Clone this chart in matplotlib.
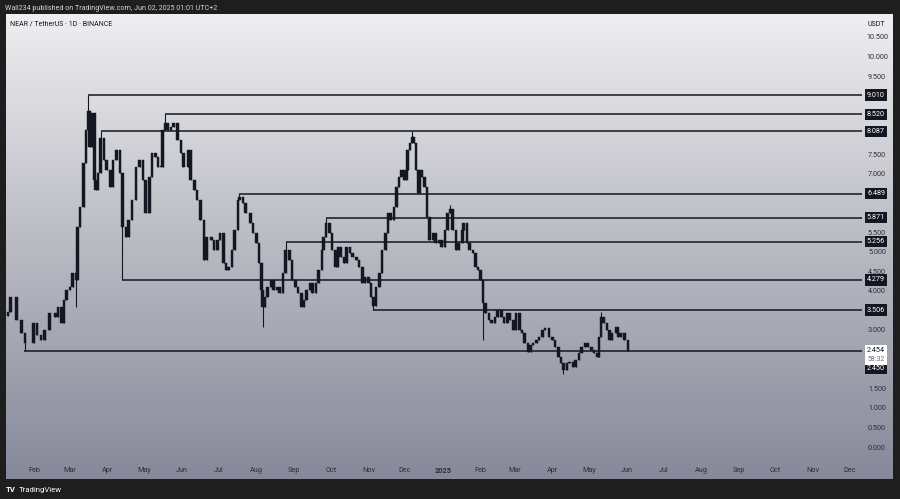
import numpy as np
import matplotlib
matplotlib.use("Agg")
import matplotlib.pyplot as plt
import matplotlib.dates as mdates
import matplotlib.transforms as mtransforms
from matplotlib.colors import LinearSegmentedColormap
import datetime as dt

plt.rcParams['font.family'] = ['Roboto', 'DejaVu Sans']

# ---------------- data ----------------
START = dt.date(2024, 1, 10)
days = [0, 2, 7, 11, 14, 21, 24, 27, 30, 34, 39, 41, 44, 46, 48, 51, 53, 56, 57, 59,
        62, 64, 66, 67, 69, 71, 72, 74, 76, 79, 81, 84, 86, 89, 92, 94, 97, 99, 102, 105,
        108, 111, 113, 116, 118, 121, 123, 126, 127, 129, 131, 134, 136, 139, 142, 144, 148, 150, 153, 155,
        158, 161, 163, 167, 169, 172, 174, 177, 179, 181, 184, 186, 189, 190, 193, 195, 199, 201, 204, 206,
        208, 209, 211, 213, 216, 218, 221, 223, 226, 228, 231, 233, 236, 238, 241, 243, 245, 248, 250, 253,
        255, 258, 259, 261, 264, 266, 269, 271, 273, 276, 278, 281, 283, 286, 288, 291, 293, 296, 298, 300,
        302, 305, 307, 310, 312, 314, 317, 319, 321, 323, 325, 327, 328, 330, 332, 333, 335, 337, 338, 340,
        342, 344, 346, 349, 351, 354, 356, 359, 361, 363, 365, 368, 370, 373, 374, 377, 379, 382, 384, 386,
        388, 390, 392, 395, 397, 400, 402, 405, 407, 410, 412, 415, 417, 420, 422, 424, 427, 429, 431, 434,
        436, 439, 441, 444, 447, 449, 452, 454, 456, 459, 461, 464, 466, 469, 471, 474, 476, 479, 481, 484,
        485, 487, 489, 492, 494, 496, 499, 501, 503, 506, 509]
closes = [3.45, 3.84, 3.25, 2.92, 2.66, 3.18, 2.87, 2.74, 3.00, 3.43, 3.33, 3.58, 3.18, 3.76, 4.02, 4.10, 4.46, 4.28, 5.63, 6.15,
          7.27, 8.12, 8.60, 7.68, 8.55, 6.84, 6.58, 7.02, 7.90, 7.35, 7.09, 6.66, 7.35, 7.60, 7.02, 5.63, 5.38, 5.81, 6.33, 7.17,
          7.35, 6.84, 5.99, 6.91, 7.53, 7.43, 7.17, 7.17, 8.12, 8.30, 8.12, 8.20, 8.30, 7.86, 7.53, 7.17, 7.60, 6.84, 6.58, 6.33,
          5.81, 4.79, 5.38, 5.30, 5.04, 5.30, 5.48, 4.71, 4.53, 4.61, 5.04, 5.56, 6.33, 6.40, 6.25, 6.00, 5.74, 5.48, 5.22, 4.71,
          4.02, 3.58, 3.84, 4.10, 4.28, 4.02, 4.10, 3.94, 4.46, 5.04, 4.79, 4.28, 4.10, 3.94, 3.58, 3.76, 4.02, 4.20, 3.94, 4.20,
          4.53, 5.04, 5.38, 5.74, 5.48, 5.04, 4.61, 5.12, 4.87, 4.71, 5.12, 4.96, 4.87, 4.79, 4.61, 4.20, 4.35, 4.20, 3.84, 3.60,
          4.10, 4.46, 5.04, 5.48, 5.99, 5.81, 6.15, 6.66, 6.91, 7.09, 6.84, 7.09, 7.60, 7.78, 7.95, 7.78, 7.09, 6.50, 7.09, 6.91,
          6.66, 5.89, 5.30, 5.48, 5.22, 5.30, 5.12, 5.56, 5.99, 6.10, 5.56, 5.04, 5.22, 5.56, 5.74, 5.22, 5.04, 4.96, 4.61, 4.53,
          4.28, 3.69, 3.43, 3.25, 3.18, 3.33, 3.51, 3.33, 3.18, 3.43, 3.25, 3.00, 3.43, 3.00, 2.92, 2.66, 2.43, 2.61, 2.66, 2.74,
          2.82, 3.00, 3.05, 2.82, 2.74, 2.56, 2.30, 2.15, 1.97, 2.15, 2.18, 2.05, 2.23, 2.41, 2.56, 2.66, 2.56, 2.48, 2.41, 2.30,
          2.82, 3.33, 3.18, 3.00, 2.74, 2.92, 3.07, 2.82, 2.92, 2.74, 2.454]
high_days = [66, 76, 129, 190, 228, 261, 332, 363, 487]
high_vals = [9.01, 8.087, 8.52, 6.489, 5.256, 5.871, 8.09, 6.20, 3.45]
low_days = [14, 56, 94, 209, 300, 390, 456]
low_vals = [2.45, 3.58, 4.279, 3.07, 3.506, 2.74, 1.88]

level_days = [13, 66, 76, 94, 129, 190, 228, 261, 300]
level_vals = [2.450, 9.010, 8.087, 4.279, 8.520, 6.489, 5.256, 5.871, 3.506]
level_labels = ["2.450", "9.010", "8.087", "4.279", "8.520", "6.489", "5.256", "5.871", "3.506"]
last_price = 2.454
countdown = "58:32"

month_labels = ["Feb", "Mar", "Apr", "May", "Jun", "Jul", "Aug", "Sep", "Oct", "Nov", "Dec", "2025",
                "Feb", "Mar", "Apr", "May", "Jun", "Jul", "Aug", "Sep", "Oct", "Nov", "Dec"]
month_dates = [dt.date(2024, m, 1) for m in range(2, 13)] + [dt.date(2025, m, 1) for m in range(1, 13)]
ytick_vals = [i * 0.5 for i in range(0, 22)]

# ---------------- figure ----------------
W, H = 900, 499
fig = plt.figure(figsize=(9, 4.99), dpi=100, facecolor="#1e1e1e")
ax = fig.add_axes([6 / W, 20 / H, 887 / W, 465 / H])

cmap = LinearSegmentedColormap.from_list("bg", ["#86899a", "#b9bac2", "#efeff1"])
grad = np.linspace(0, 1, 256).reshape(-1, 1)
ax.imshow(grad, extent=[0, 1, 0, 1], transform=ax.transAxes, aspect="auto",
          cmap=cmap, origin="lower", zorder=0)

base = mdates.date2num(START)
x = base + np.array(days, dtype=float)
c = np.array(closes)
o = np.r_[c[0] - 0.1, c[:-1]]
body_lo = np.minimum(o, c)
body_hi = np.maximum(o, c)
hi = body_hi.copy()
lo = body_lo.copy()
for d, v in zip(high_days, high_vals):
    i = days.index(d)
    hi[i] = max(hi[i], v)
for d, v in zip(low_days, low_vals):
    i = days.index(d)
    lo[i] = min(lo[i], v)

ink = "#131722"
ax.vlines(x, lo, hi, color=ink, lw=0.8, zorder=2)
ax.bar(x, np.maximum(body_hi - body_lo, 0.03), bottom=body_lo, width=2.0,
       color=ink, edgecolor=ink, linewidth=0.3, zorder=2)

# horizontal levels
end_day = base + 701
ax.hlines(level_vals, base + np.array(level_days, dtype=float), end_day,
          colors=ink, lw=1.1, zorder=3)

# limits
ax.set_xlim(base - 1.64, base + 726.6)
ax.set_ylim(-0.819, 11.088)

# axes styling
for s in ax.spines.values():
    s.set_visible(False)
ax.set_xticks([mdates.date2num(d) for d in month_dates])
ax.set_xticklabels(month_labels)
ax.tick_params(axis="x", length=0, pad=-8.5, labelsize=5.2, labelcolor="#2a2e39")
for lab in ax.get_xticklabels():
    if lab.get_text() == "2025":
        lab.set_fontweight("bold")

label_pos = {"2.450": 2.01}
box_centres = [label_pos.get(t, v) for v, t in zip(level_vals, level_labels)] + [last_price, 2.25]
shown_ticks = [v for v in ytick_vals if min(abs(v - b) for b in box_centres) > 0.2]

ax.yaxis.tick_right()
ax.set_yticks(shown_ticks)
ax.set_yticklabels([f"{v:.3f}" for v in shown_ticks])
ax.tick_params(axis="y", length=0, pad=-11.5, labelsize=5.2, labelcolor="#2a2e39")
plt.setp(ax.get_yticklabels(), ha="center")

blend = mtransforms.blended_transform_factory(ax.transAxes, ax.transData)
xc = (876 - 6) / 887
for v, t in zip(level_vals, level_labels):
    ax.text(xc, label_pos.get(t, v), t, transform=blend, ha="center", va="center",
            color="white", fontsize=5.2, zorder=6,
            bbox=dict(boxstyle="square,pad=0.3", fc=ink, ec="none"))

ax.text(xc, last_price + 0.02, f"{last_price:.3f}", transform=blend, ha="center", va="center",
        color=ink, fontsize=5.2, zorder=7,
        bbox=dict(boxstyle="square,pad=0.3", fc="white", ec="none"))
ax.text(xc, 2.25, countdown, transform=blend, ha="center", va="center",
        color="#6a6d78", fontsize=5.0, zorder=7,
        bbox=dict(boxstyle="square,pad=0.3", fc="white", ec="none"))

ax.text(xc, 11.088 - 10 / 39.05, "USDT", transform=blend, ha="center", va="center",
        color=ink, fontsize=5.0, zorder=6)

# texts outside
fig.text(5 / W, 1 - 8 / H, "Wall234 published on TradingView.com, Jun 02, 2025 01:01 UTC+2",
         color="#d6d6d6", fontsize=5.1, va="center", ha="left")
fig.text(10 / W, 1 - 24.5 / H, "NEAR / TetherUS · 1D · BINANCE",
         color=ink, fontsize=5.0, va="center", ha="left")
fig.text(6 / W, 1 - 490 / H, "TV", color="white", fontsize=5.6, fontweight="bold",
         va="center", ha="left")
fig.text(19 / W, 1 - 490 / H, "TradingView", color="white", fontsize=5.6,
         va="center", ha="left")

fig.savefig("out.png", dpi=100, facecolor=fig.get_facecolor())
